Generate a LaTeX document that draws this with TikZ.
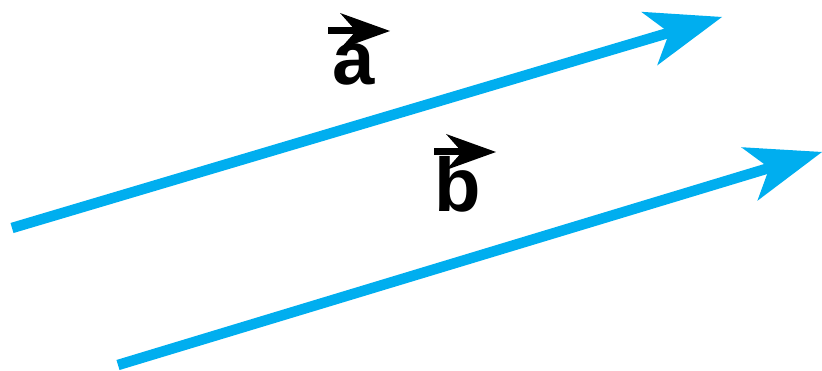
\documentclass[tikz,border=0pt]{standalone}
\usepackage{fontspec}
\setmainfont{Liberation Sans}[BoldFont={Liberation Sans Bold}]
\newfontfamily\lblfont{Liberation Sans Bold}
\usetikzlibrary{arrows.meta}
\definecolor{vblue}{RGB}{0,174,239}
\begin{document}
\begin{tikzpicture}[x=1pt,y=-1pt,
  vec/.style={draw=vblue, line width=10.5pt, -{Stealth[length=76pt,width=56pt,inset=21pt,line width=0pt]}},
  lbl/.style={font=\lblfont\fontsize{76}{76}\selectfont, inner sep=0pt, anchor=base},
  over/.style={draw=black, line width=7pt, -{Stealth[length=50pt,width=36pt,inset=16pt,line width=0pt]}}]
\useasboundingbox (0,0) rectangle (822,371);
\coordinate (a0) at (12,228);
\coordinate (a1) at (722,17);
\coordinate (b0) at (118,365);
\coordinate (b1) at (822,152);
\draw[vec] (a0) -- (a1);
\draw[vec] (b0) -- (b1);
\node[lbl] (la) at (354,85) {a};
\node[lbl] (lb) at (458,212) {b};
\coordinate (oa0) at (328,31);
\coordinate (oa1) at (390,31);
\coordinate (ob0) at (434,152);
\coordinate (ob1) at (496,152);
\draw[over] (oa0) -- (oa1);
\draw[over] (ob0) -- (ob1);
\end{tikzpicture}
\end{document}
